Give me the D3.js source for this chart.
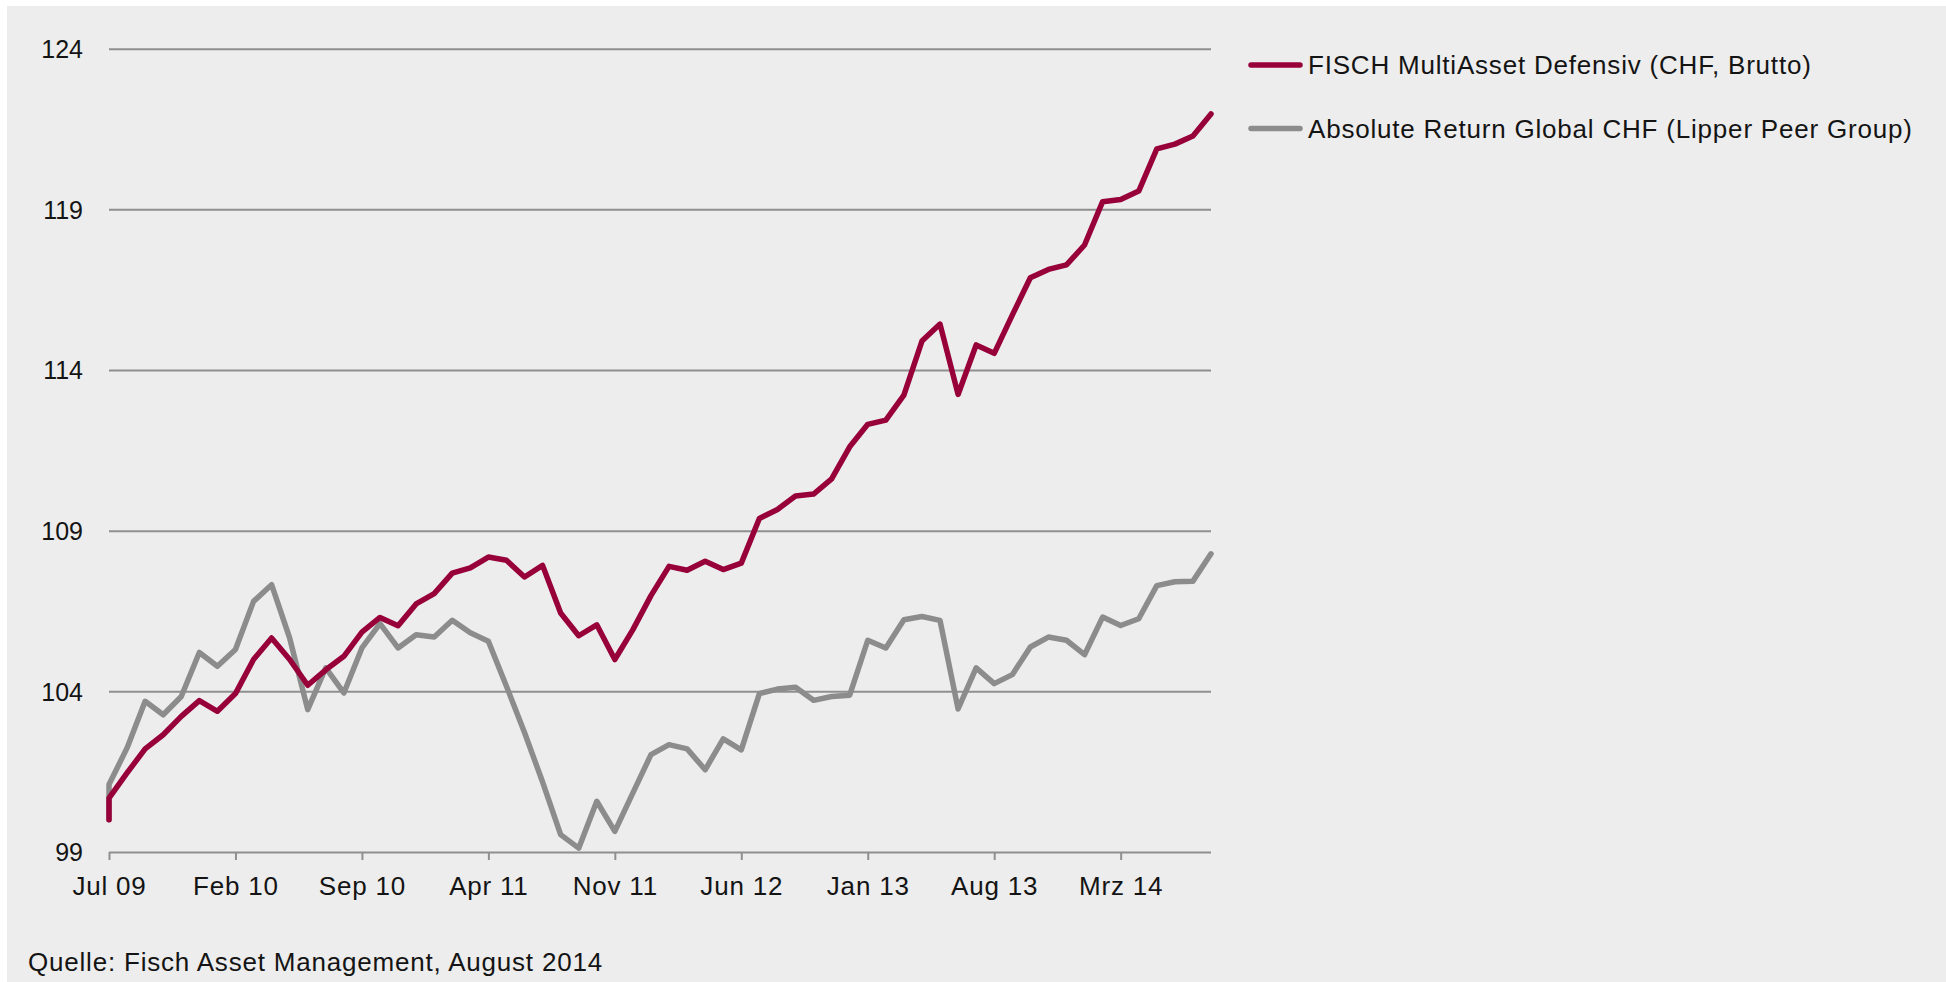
<!DOCTYPE html>
<html>
<head>
<meta charset="utf-8">
<script src="https://cdnjs.cloudflare.com/ajax/libs/d3/7.8.5/d3.min.js"></script>
<style>
  body { margin: 0; background: #fff; }
  svg text { font-family: "Liberation Sans", Arial, Helvetica, sans-serif; fill: #141414; }
</style>
</head>
<body>
<div id="chart"></div>
<script>
// monthly index values, Jul 09 .. Aug 14, both series start at 100
const start = 100
const fisch = [100.68, 101.46, 102.21, 102.65, 103.22, 103.71, 103.38, 103.93, 104.99, 105.66,
               104.99, 104.19, 104.67, 105.09, 105.84, 106.30, 106.04, 106.72, 107.04, 107.68,
               107.84, 108.18, 108.08, 107.56, 107.92, 106.44, 105.73, 106.07, 104.99, 105.92,
               106.98, 107.89, 107.77, 108.05, 107.79, 107.99, 109.38, 109.66, 110.08, 110.14,
               110.61, 111.61, 112.31, 112.44, 113.22, 114.90, 115.43, 113.24, 114.78, 114.52,
               115.71, 116.87, 117.13, 117.27, 117.89, 119.24, 119.31, 119.57, 120.88, 121.03,
               121.28, 121.97]
const lipper = [101.10, 102.24, 103.69, 103.27, 103.84, 105.21, 104.78, 105.30, 106.80, 107.32,
                105.66, 103.43, 104.73, 103.95, 105.35, 106.11, 105.35, 105.76, 105.69, 106.21,
                105.82, 105.56, 104.16, 102.72, 101.18, 99.54, 99.12, 100.58, 99.64, 100.84,
                102.03, 102.34, 102.21, 101.56, 102.52, 102.18, 103.93, 104.07, 104.13, 103.72,
                103.84, 103.88, 105.59, 105.35, 106.23, 106.33, 106.21, 103.45, 104.73, 104.24,
                104.52, 105.38, 105.69, 105.59, 105.14, 106.31, 106.05, 106.26, 107.29, 107.41,
                107.43, 108.28]
const tickMonths = [0, 7, 14, 21, 28, 35, 42, 49, 56]
const tickLabels = ['Jul 09', 'Feb 10', 'Sep 10', 'Apr 11', 'Nov 11', 'Jun 12', 'Jan 13', 'Aug 13', 'Mrz 14']
const yTicks = [99, 104, 109, 114, 119, 124]
const seriesNames = ['FISCH MultiAsset Defensiv (CHF, Brutto)', 'Absolute Return Global CHF (Lipper Peer Group)']
const colors = ['#98003a', '#8c8c8c']
const source = 'Quelle: Fisch Asset Management, August 2014'

const W = 1946, H = 982
let m = { l: 109, r: 1211, t: 48.7, b: 852 }

let svg = d3.select('#chart').append('svg').attr('width', W).attr('height', H)

svg.append('rect').attr('x', 7).attr('y', 6).attr('width', W - 7).attr('height', H - 6).attr('fill', '#ededed')

let x = d3.scaleLinear().domain([0, fisch.length - 1]).range([m.l, m.r]),
    y = d3.scaleLinear().domain([99, 124]).range([m.b, m.t])

// horizontal grid + y labels
let gy = svg.append('g')
  .attr('transform', `translate(${m.l},0)`)
  .call(d3.axisLeft(y).tickValues(yTicks).tickSize(-(m.r - m.l)).tickPadding(26).tickFormat(d3.format('d')))
gy.select('.domain').remove()
gy.selectAll('.tick line').attr('stroke', '#8f8f8f').attr('stroke-width', 2)
gy.selectAll('.tick text').attr('font-size', 25).attr('dy', '0.35em')

// x ticks
let gx = svg.append('g')
  .attr('transform', `translate(0,${m.b})`)
  .call(d3.axisBottom(x).tickValues(tickMonths).tickSize(8).tickPadding(17).tickFormat((d, i) => tickLabels[i]))
gx.select('.domain').remove()
gx.selectAll('.tick line').attr('stroke', '#8f8f8f').attr('stroke-width', 2)
gx.selectAll('.tick text').attr('font-size', 26).attr('letter-spacing', '0.8px')

let line = d3.line().x(d => x(d[0])).y(d => y(d[1]))
let pts = vals => [[0, start]].concat(vals.map((v, i) => [i, v]))

// grey first so the red sits on top
;[lipper, fisch].forEach((vals, k) => {
  svg.append('path')
    .datum(pts(vals))
    .attr('d', line)
    .attr('fill', 'none')
    .attr('stroke', colors[1 - k])
    .attr('stroke-width', 5.5)
    .attr('stroke-linejoin', 'round')
    .attr('stroke-linecap', 'round')
})

// legend
let lg = svg.append('g').selectAll('g').data(seriesNames).enter().append('g')
  .attr('transform', (d, i) => `translate(1249,${65 + i * 63.5})`)
lg.append('line').attr('x1', 2).attr('x2', 51)
  .attr('stroke', (d, i) => colors[i]).attr('stroke-width', 5.5).attr('stroke-linecap', 'round')
lg.append('text').attr('x', 59).attr('dy', '0.35em')
  .attr('font-size', 26).attr('letter-spacing', '0.8px')
  .text(d => d)

svg.append('text').attr('x', 28).attr('y', 971).attr('font-size', 26).attr('letter-spacing', '0.8px').text(source)
</script>
</body>
</html>
